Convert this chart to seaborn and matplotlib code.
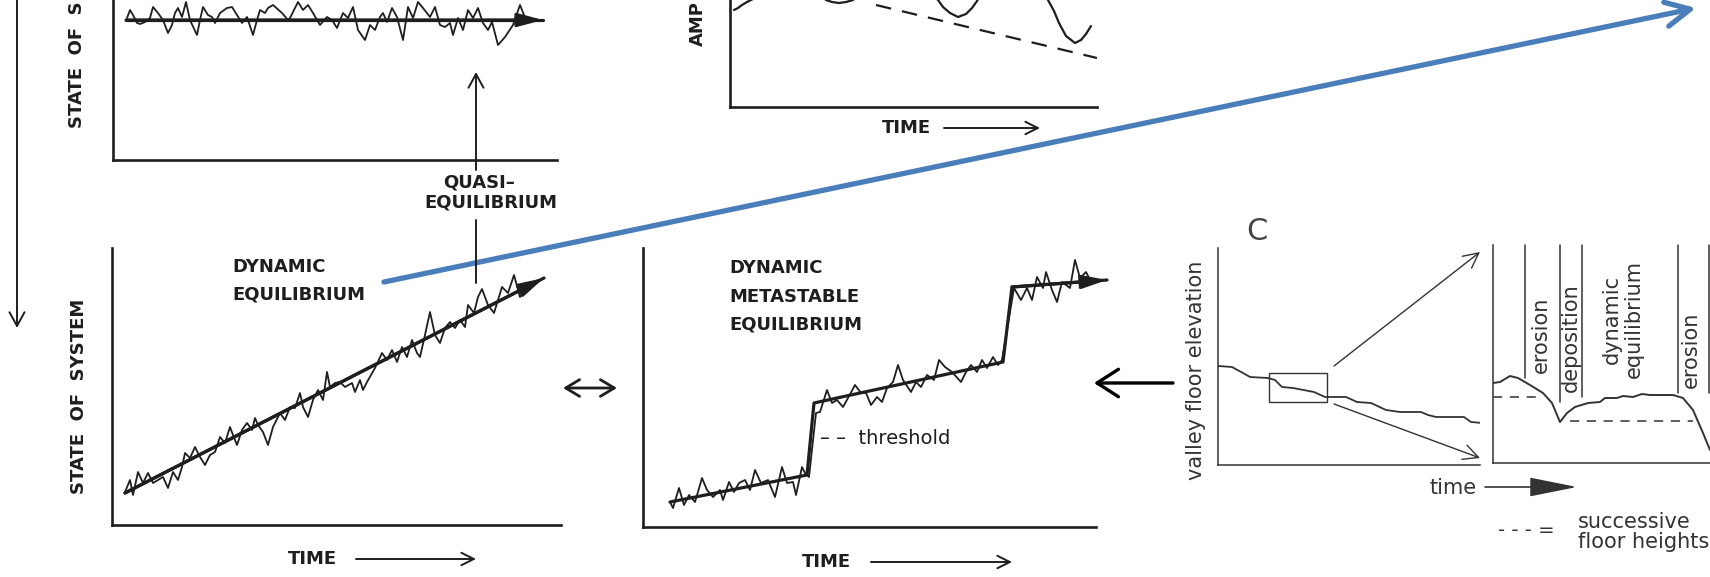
import matplotlib
matplotlib.use("Agg")
import matplotlib.pyplot as plt
import seaborn as sns
from matplotlib.patches import FancyArrowPatch, Rectangle, ConnectionPatch

sns.set_theme(style="white")
plt.rcParams['font.family'] = ['DejaVu Sans']

W, H = 1710, 577
INK = '#1e1e1e'
GREY = '#333333'
BLUE = '#4a7ebb'

# ---------------- data (units: time / state) ----------------
# top-left: quasi-equilibrium
quasi_time = [14, 17, 20, 24, 27, 32, 37, 40, 45, 50, 55, 59, 62, 65, 69, 73, 77, 84, 87, 90,
              95, 99, 102, 107, 114, 119, 124, 129, 134, 140, 144, 147, 152, 155, 160, 169, 175, 177, 185, 190,
              195, 200, 207, 214, 219, 224, 230, 235, 240, 245, 252, 257, 262, 267, 270, 274, 279, 284, 290, 295,
              300, 305, 310, 317, 322, 327, 332, 337, 340, 345, 350, 355, 360, 365, 370, 375, 379, 385, 392, 400,
              407, 413, 420]
quasi_state = [142, 150, 145, 137, 136, 138, 142, 153, 147, 140, 127, 135, 147, 152, 143, 158, 140, 125, 140, 153,
               145, 143, 137, 147, 152, 153, 145, 137, 143, 125, 140, 150, 147, 152, 155, 147, 140, 142, 158, 150,
               155, 147, 135, 143, 140, 132, 147, 142, 153, 130, 120, 135, 130, 143, 147, 138, 152, 143, 120, 153,
               142, 158, 152, 143, 153, 135, 133, 137, 125, 142, 130, 150, 142, 152, 137, 130, 138, 115, 123, 135,
               155, 140, 140]
quasi_trend_time = [13, 430]
quasi_trend_state = [140, 140]

# bottom-left: dynamic equilibrium
dyn_time = [13, 18, 21, 26, 31, 36, 41, 46, 51, 56, 61, 66, 70, 73, 78, 83, 88, 93, 98, 103,
            108, 113, 118, 121, 125, 130, 135, 140, 143, 146, 151, 156, 161, 168, 173, 178, 183, 188, 191, 196,
            201, 206, 211, 215, 218, 223, 228, 233, 240, 243, 248, 251, 255, 263, 270, 275, 280, 285, 290, 295,
            300, 305, 308, 313, 318, 323, 328, 333, 338, 343, 348, 353, 356, 362, 366, 370, 376, 382, 390, 396,
            402, 408, 418, 425]
dyn_state = [33, 45, 30, 53, 42, 52, 42, 45, 48, 37, 53, 45, 58, 72, 67, 78, 68, 60, 70, 73,
             88, 82, 98, 90, 80, 95, 102, 95, 107, 100, 93, 80, 98, 112, 105, 118, 117, 132, 118, 108,
             125, 135, 125, 153, 138, 142, 143, 138, 142, 133, 145, 135, 143, 157, 172, 165, 175, 163, 178, 168,
             185, 172, 168, 190, 213, 190, 182, 197, 203, 197, 205, 198, 220, 212, 228, 236, 220, 212, 238, 232,
             250, 228, 240, 242]
dyn_trend_time = [13, 432]
dyn_trend_state = [32, 247]

# top-middle: amplitude
amp_time = [4, 8, 12, 17, 23, 32, 45, 60, 75, 88, 96, 102, 109, 116, 123, 132, 150, 170, 190, 200,
            208, 213, 220, 228, 236, 242, 247, 252, 270, 290, 305, 312, 318, 324, 329, 336, 345, 351, 356, 361]
amp_value = [97, 99, 102, 105, 108, 118, 135, 145, 135, 115, 107, 105, 104, 105, 107, 116, 140, 150, 130, 114,
             107, 100, 94, 90, 93, 99, 106, 114, 145, 160, 135, 115, 107, 96, 84, 71, 64, 67, 73, 81]
amp_env_time = [146, 367]
amp_env_value = [102, 49]

# bottom-middle: dynamic metastable equilibrium
meta_time = [27, 30, 36, 41, 46, 52, 59, 64, 70, 77, 80, 86, 91, 96, 102, 107, 112, 118, 125, 132,
             139, 144, 150, 153, 159, 162, 166,
             173, 177, 184, 189, 194, 200, 205, 212, 218, 223, 228, 234, 239, 244, 250, 255, 260, 268, 273, 278,
             284, 291, 296, 302, 309, 318, 323, 328, 334, 339, 344, 350, 355, 359,
             371, 378, 384, 389, 394, 400, 403, 409, 414, 419, 427, 432, 437, 443, 448, 453]
meta_state = [25, 19, 39, 22, 32, 25, 49, 37, 30, 37, 27, 45, 35, 44, 47, 37, 57, 44, 47, 30,
              60, 44, 45, 32, 60, 54, 50,
              114, 115, 137, 124, 127, 120, 129, 142, 134, 134, 122, 130, 125, 139, 145, 162, 147, 135, 145, 140,
              152, 147, 167, 160, 155, 145, 155, 162, 155, 167, 159, 170, 162, 167,
              239, 227, 239, 227, 250, 239, 255, 237, 225, 245, 239, 267, 249, 255, 245, 247]
meta_trend_time = [27, 164, 171, 360, 369, 464]
meta_trend_state = [25, 52, 124, 165, 240, 247]

# C left: valley floor elevation
valley_time = [0, 14, 25, 32, 50, 57, 64, 75, 96, 107, 128, 139, 153, 168, 182, 203, 210, 218, 246, 253, 264]
valley_elev = [99, 98, 92, 88, 87, 85, 78, 77, 73, 68, 68, 63, 62, 55, 53, 53, 50, 48, 48, 43, 42]
zoom_time = [51, 109]
zoom_elev = [63, 92]

# C right: detail
detail_time = [0, 7, 17, 25, 37, 50, 59, 67, 74, 82, 95, 107, 112, 124, 130, 140, 149, 157, 167, 180,
               190, 200, 210, 217]
detail_elev = [80, 81, 87, 85, 78, 70, 60, 41, 50, 56, 60, 61, 65, 65, 67, 66, 69, 68, 68, 68,
               65, 53, 30, 13]
floor_heights = [66, 42]
floor_from = [0, 77]
floor_to = [49, 200]
phase_bounds = [32, 67, 89, 185, 216]
phase_bottoms = [85, 61, 66, 70, 70]
phase_labels = ['erosion', 'deposition', 'dynamic', 'equilibrium', 'erosion']
phase_label_t = [48, 78, 119, 141, 198]
phase_label_s = [128, 125, 144, 144, 113]

# ---------------- figure ----------------
fig = plt.figure(figsize=(W / 100, H / 100), dpi=100)
fig.patch.set_facecolor('white')


def P(x, y):
    return (x / W, 1 - y / H)


def add_ax(left, right, top, bottom, lw=1.9, color=INK):
    ax = fig.add_axes([left / W, 1 - bottom / H, (right - left) / W, (bottom - top) / H])
    ax.set_xlim(0, right - left)
    ax.set_ylim(0, bottom - top)
    ax.set_facecolor('none')
    for s in ['top', 'right']:
        ax.spines[s].set_visible(False)
    for s in ['left', 'bottom']:
        ax.spines[s].set_color(color)
        ax.spines[s].set_linewidth(lw)
    ax.set_xticks([])
    ax.set_yticks([])
    ax.grid(False)
    return ax


def trend_arrow(ax, t, s, lw=2.3):
    ax.annotate('', xy=(t[-1], s[-1]), xytext=(t[-2], s[-2]),
                arrowprops=dict(arrowstyle='-|>,head_length=0.75,head_width=0.2', mutation_scale=20,
                                lw=lw, color=INK, shrinkA=0, shrinkB=0),
                annotation_clip=False)


def fig_arrow(p0, p1, style, ms, lw, color=INK):
    fig.add_artist(FancyArrowPatch(P(*p0), P(*p1), transform=fig.transFigure, arrowstyle=style,
                                   mutation_scale=ms, lw=lw, color=color, shrinkA=0, shrinkB=0))


def ftext(x, y, s, **kw):
    kw.setdefault('fontsize', 13)
    kw.setdefault('color', INK)
    kw.setdefault('fontweight', 'bold')
    fig.text(x / W, 1 - y / H, s, **kw)


# top-left panel
ax_q = add_ax(113, 557, -200, 160)
sns.lineplot(x=quasi_time, y=quasi_state, ax=ax_q, color=INK, lw=1.3, sort=False, estimator=None)
ax_q.plot(quasi_trend_time, quasi_trend_state, color=INK, lw=2.3)
trend_arrow(ax_q, quasi_trend_time, quasi_trend_state)

# bottom-left panel
ax_d = add_ax(112, 561, 248, 525)
sns.lineplot(x=dyn_time, y=dyn_state, ax=ax_d, color=INK, lw=1.3, sort=False, estimator=None)
ax_d.plot(dyn_trend_time, dyn_trend_state, color=INK, lw=2.3)
trend_arrow(ax_d, dyn_trend_time, dyn_trend_state)

# top-middle panel
ax_a = add_ax(730, 1097, -200, 107)
sns.lineplot(x=amp_time, y=amp_value, ax=ax_a, color=INK, lw=1.6, sort=False, estimator=None)
ax_a.plot(amp_env_time, amp_env_value, color=INK, lw=1.6, dashes=(7, 5))

# bottom-middle panel
ax_m = add_ax(643, 1096, 248, 527)
sns.lineplot(x=meta_time, y=meta_state, ax=ax_m, color=INK, lw=1.3, sort=False, estimator=None)
ax_m.plot(meta_trend_time, meta_trend_state, color=INK, lw=2.3, clip_on=False)
trend_arrow(ax_m, meta_trend_time, meta_trend_state)

# C left
ax_c1 = add_ax(1218, 1480, 248, 465, lw=1.1, color=GREY)
sns.lineplot(x=valley_time, y=valley_elev, ax=ax_c1, color=GREY, lw=1.3, sort=False, estimator=None)
ax_c1.add_patch(Rectangle((zoom_time[0], zoom_elev[0]), zoom_time[1] - zoom_time[0],
                          zoom_elev[1] - zoom_elev[0], fill=False, lw=1.0, ec=GREY))

# C right
ax_c2 = add_ax(1493, 1800, 245, 463, lw=1.1, color=GREY)
sns.lineplot(x=detail_time, y=detail_elev, ax=ax_c2, color=GREY, lw=1.4, sort=False, estimator=None)
for h, a, b in zip(floor_heights, floor_from, floor_to):
    ax_c2.plot([a, b], [h, h], color=GREY, lw=1.1, dashes=(6, 5))
for t, b in zip(phase_bounds, phase_bottoms):
    ax_c2.plot([t, t], [b, 218], color=GREY, lw=1.1, clip_on=False)
for lab, t, s in zip(phase_labels, phase_label_t, phase_label_s):
    ax_c2.text(t, s, lab, rotation=90, ha='center', va='center', fontsize=15, color=GREY)

for a_pt, b_pt in [((116, 99), (-13, 211)), ((116, 61), (-13, 5))]:
    con = ConnectionPatch(xyA=a_pt, coordsA=ax_c1.transData, xyB=b_pt, coordsB=ax_c2.transData,
                          arrowstyle='->,head_length=0.6,head_width=0.3', mutation_scale=18,
                          lw=1.0, color=GREY, shrinkA=0, shrinkB=0)
    fig.add_artist(con)

# ---------------- annotations ----------------
fig_arrow((17, 0), (17, 328), '->,head_length=0.55,head_width=0.3', 18, 1.4)
fig_arrow((476, 170), (476, 72), '->,head_length=0.55,head_width=0.3', 18, 1.4)
fig.add_artist(plt.Line2D([476 / W, 476 / W], [1 - 220 / H, 1 - 283 / H], transform=fig.transFigure,
                          color=INK, lw=1.4))
fig_arrow((563, 388), (617, 388), '<->,head_length=0.5,head_width=0.3', 20, 2.0)
fig_arrow((1173, 383), (1094, 383), '->,head_length=0.7,head_width=0.45', 22, 2.4, color='black')
fig_arrow((384, 282), (1696, 8), '->,head_length=0.8,head_width=0.4', 22, 3.8, color=BLUE)

# texts
ftext(77, 1, 'STATE  OF  S', rotation=90, ha='center', va='top')
ftext(79, 396, 'STATE  OF  SYSTEM', rotation=90, ha='center', va='center')
ftext(698, 1, 'AMP', rotation=90, ha='center', va='top')
ftext(479, 183, 'QUASI–', ha='center', va='center')
ftext(491, 203, 'EQUILIBRIUM', ha='center', va='center')
ftext(232, 267, 'DYNAMIC', ha='left', va='center')
ftext(232, 295, 'EQUILIBRIUM', ha='left', va='center')
ftext(729, 268, 'DYNAMIC', ha='left', va='center')
ftext(729, 297, 'METASTABLE', ha='left', va='center')
ftext(729, 325, 'EQUILIBRIUM', ha='left', va='center')
ftext(820, 438, '– –  threshold', ha='left', va='center', fontsize=14, fontweight='normal')

for cx, y, a0, a1 in [(312, 559, 356, 476), (826, 562, 871, 1012), (906, 128, 944, 1040)]:
    ftext(cx, y, 'TIME', ha='center', va='center')
    fig_arrow((a0, y), (a1, y), '->,head_length=0.5,head_width=0.25', 18, 1.4)

ctext = dict(fontweight='normal', color=GREY)
ftext(1257, 232, 'C', ha='center', va='center', fontsize=22, fontweight='normal', color='#444444')
ftext(1196, 370, 'valley floor elevation', rotation=90, ha='center', va='center', fontsize=15, **ctext)
ftext(1477, 488, 'time', ha='right', va='center', fontsize=15, **ctext)
fig_arrow((1485, 487), (1577, 487), '-|>,head_length=1.5,head_width=0.3', 20, 1.2, color=GREY)
ftext(1498, 530, '- - - =', ha='left', va='center', fontsize=14, **ctext)
ftext(1578, 522, 'successive', ha='left', va='center', fontsize=15, **ctext)
ftext(1578, 542, 'floor heights', ha='left', va='center', fontsize=15, **ctext)

fig.savefig('out.png', dpi=100, facecolor='white')
